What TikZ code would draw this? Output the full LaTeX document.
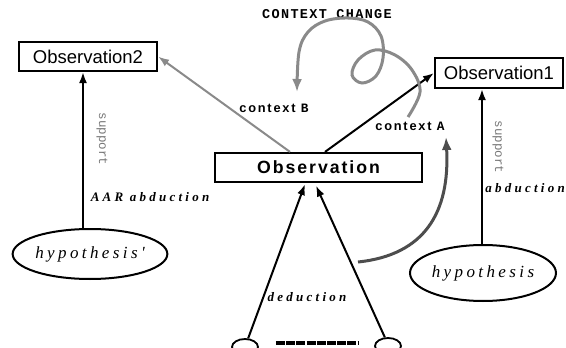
\documentclass[tikz,border=0pt]{standalone}
\usepackage{fontspec}
\setmainfont{Liberation Serif}
\setsansfont{Liberation Sans}
\setmonofont{Liberation Mono}
\newfontfamily\obsfont[LetterSpace=11]{Liberation Sans}
\newfontfamily\hypfont[LetterSpace=20]{Liberation Serif}
\newfontfamily\dedfont[LetterSpace=25]{Liberation Serif}
\newfontfamily\ctxfont[LetterSpace=14]{Liberation Sans}
\newfontfamily\chgfont[LetterSpace=10]{Liberation Mono}
\usetikzlibrary{arrows.meta,shapes.geometric}
\definecolor{lightg}{HTML}{8A8A8A}
\definecolor{darkg}{HTML}{4D4D4D}
\definecolor{suppg}{HTML}{777777}
\tikzset{
  box/.style={draw, line width=2.2pt, inner sep=0pt, font=\sffamily\fontsize{18.5}{20}\selectfont},
  hyp/.style={draw, ellipse, line width=2pt, inner sep=0pt, font=\hypfont\itshape\fontsize{17}{19}\selectfont},
  small/.style={draw, ellipse, line width=1.8pt, inner sep=0pt, minimum width=26pt, minimum height=16pt},
  arr/.style={line width=2pt, -{Latex[length=11pt,width=8pt]}},
  garr/.style={line width=2pt, lightg, -{Latex[length=11pt,width=8pt]}},
  ded/.style={font=\dedfont\bfseries\itshape\fontsize{13}{15}\selectfont, inner sep=0pt},
  supp/.style={font=\ttfamily\fontsize{12.5}{14}\selectfont, text=suppg, rotate=-90, inner sep=0pt},
  ctx/.style={font=\ctxfont\bfseries\fontsize{12.8}{14}\selectfont, inner sep=0pt},
}
\begin{document}
\begin{tikzpicture}[x=1pt,y=-1pt]
\useasboundingbox (0,0) rectangle (566,348);
% nodes
\node[box, minimum width=138pt, minimum height=29pt] (obs2) at (88,56.5) {Observation2};
\node[box, minimum width=128pt, minimum height=30pt] (obs1) at (499,73) {Observation1};
\node[box, minimum width=207pt, minimum height=29pt, font=\obsfont\bfseries\fontsize{17.7}{20}\selectfont] (obs) at (318.5,167.5) {Observation};
\node[hyp, minimum width=152pt, minimum height=50pt] (h2) at (90,254) {hypothesis'};
\node[hyp, minimum width=146pt, minimum height=56pt] (h1) at (483,273) {hypothesis};
\node[small] (bl) at (245,347) {};
\node[small] (br) at (388,346) {};
% labels
\node[font=\chgfont\bfseries\fontsize{13.5}{15}\selectfont, inner sep=0pt] (chg) at (327,14) {CONTEXT CHANGE};
\node[ctx] (ctxB) at (274,108) {context {\ttfamily\bfseries B}};
\node[ctx] (ctxA) at (410,126) {context {\ttfamily\bfseries A}};
\node[supp] (s2) at (102,139) {support};
\node[supp] (s1) at (498,147) {support};
\node[ded] (aar) at (150,197) {AAR abduction};
\node[ded] (abd) at (525,188) {abduction};
\node[ded] (dedl) at (307,297) {deduction};
% connectors
\draw[arr] ([xshift=-7pt]h2.north) -- ([xshift=-7pt]h2.north |- obs2.south);
\draw[arr] ([xshift=-1pt]h1.north) -- ([xshift=-1pt]h1.north |- obs1.south);
\draw[garr] ([xshift=-28.5pt]obs.north) -- (obs2.east);
\draw[arr] ([xshift=6.5pt]obs.north) -- (obs1.west);
\draw[arr] (bl.70) -- ([xshift=-13.5pt,yshift=-1pt]obs.south);
\draw[arr] (br.110) -- ([xshift=-2.5pt,yshift=-2.5pt]obs.south);
% dark arc
\coordinate (arcS) at (358,262);
\coordinate (arcE) at (446,137);
\draw[line width=3pt, darkg, -{Latex[length=13pt,width=10pt]}] (arcS) .. controls (425,255) and (450,212) .. (arcE);
% squiggle
\coordinate (sqS) at (408,117);
\coordinate (sqE) at (297,92);
\draw[line width=3pt, lightg, -{Latex[length=13pt,width=10pt]}] plot[smooth, tension=0.6] coordinates {(408,117) (420,92) (412,70) (395,55) (375,50) (358,60) (352,75) (362,83) (376,76) (383,58) (381,36) (368,22) (348,18) (325,21) (308,32) (299,52) (297,92)};
% chain line
\draw[line width=4pt, dash pattern=on 9pt off 1.2pt] ([xshift=17pt,yshift=4pt]bl.east) -- ([xshift=-15pt,yshift=3pt]br.west);
\end{tikzpicture}
\end{document}
